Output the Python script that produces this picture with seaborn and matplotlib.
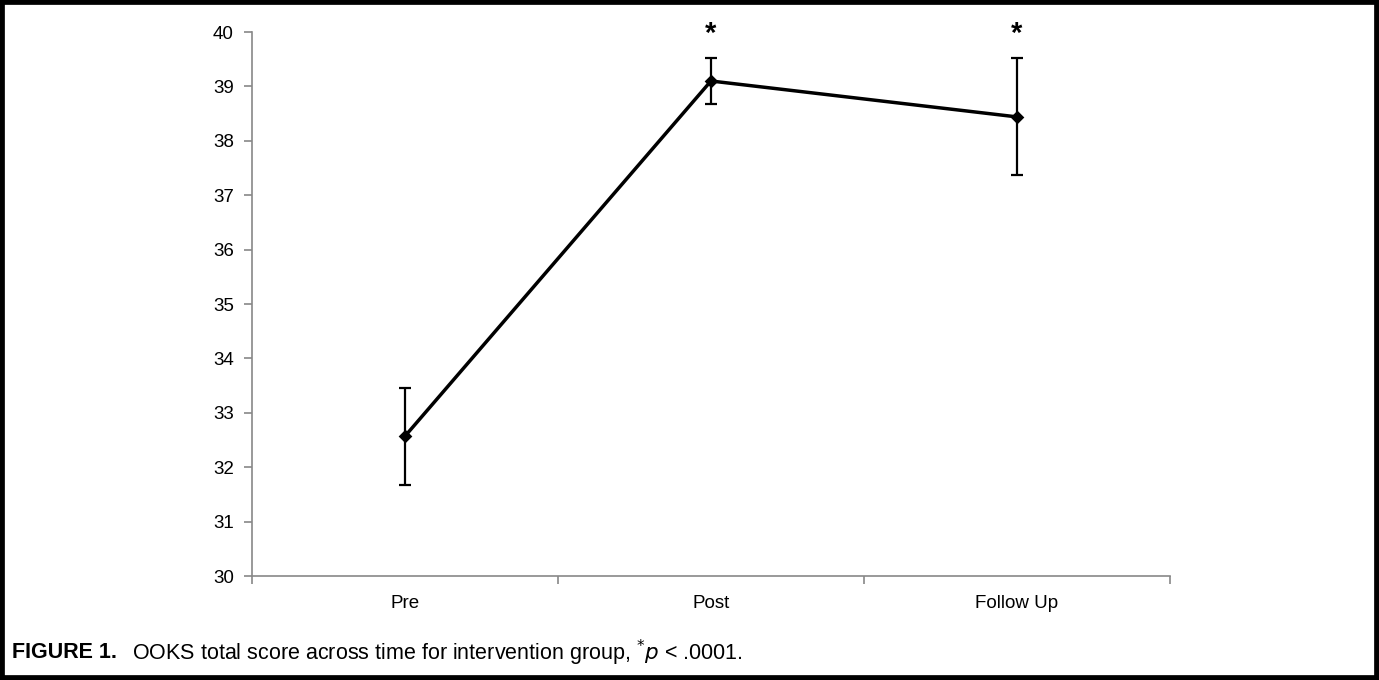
import matplotlib
matplotlib.use("Agg")
import matplotlib.pyplot as plt
from matplotlib.patches import Rectangle
import seaborn as sns
import pandas as pd

# data
phases = ["Pre", "Post", "Follow Up"]
means = [32.57, 39.10, 38.44]
err_low = [31.68, 38.68, 37.37]
err_high = [33.45, 39.52, 39.52]
significant = [False, True, True]

df = pd.DataFrame({"phase": phases, "score": means})

sns.set_style("white")
plt.rcParams["font.family"] = ["Liberation Sans", "DejaVu Sans"]
plt.rcParams["text.color"] = "black"
plt.rcParams["xtick.color"] = "black"
plt.rcParams["ytick.color"] = "black"

fig = plt.figure(figsize=(13.79, 6.80), dpi=100)
ax = fig.add_axes([0.1827, 0.1529, 0.6657, 0.8])

sns.pointplot(data=df, x="phase", y="score", color="black", markers="D",
              markersize=5.5, linewidth=2.5, errorbar=None, ax=ax)

lower = [m - lo for m, lo in zip(means, err_low)]
upper = [hi - m for m, hi in zip(means, err_high)]
ax.errorbar(range(len(phases)), means, yerr=[lower, upper], fmt="none",
            ecolor="black", elinewidth=1.6, capsize=4.5, capthick=1.6)

for i, sig in enumerate(significant):
    if sig:
        ax.text(i, 39.96, "*", ha="center", va="center", fontsize=21,
                fontweight="bold", clip_on=False)

ax.set_ylim(30, 40)
ax.set_xlim(-0.5, 2.5)
ax.set_yticks(range(30, 41))
ax.set_xlabel("")
ax.set_ylabel("")

# tick marks between categories, like the original
ax.set_xticks([-0.5, 0.5, 1.5, 2.5], minor=True)
ax.tick_params(axis="x", which="major", length=0, labelsize=13.5, pad=14,
               labelcolor="black")
ax.tick_params(axis="x", which="minor", length=6, color="#888888", width=1.2,
               bottom=True)
ax.tick_params(axis="y", length=6, color="#888888", width=1.2,
               labelsize=13.5, pad=7, left=True, labelcolor="black")

sns.despine(ax=ax)
for side in ["left", "bottom"]:
    ax.spines[side].set_color("#888888")
    ax.spines[side].set_linewidth(1.2)

fig.text(0.009, 0.04, "FIGURE 1.", fontsize=15.5, fontweight="bold",
         va="center", ha="left")
fig.text(0.096, 0.04, "OOKS total score across time for intervention group, $^{*}$$\\it{p}$ < .0001.",
         fontsize=15.5, va="center", ha="left")

fig.patches.append(Rectangle((0, 0), 1, 1, transform=fig.transFigure,
                             fill=False, edgecolor="black", linewidth=7))

fig.savefig("out.png", dpi=100)
